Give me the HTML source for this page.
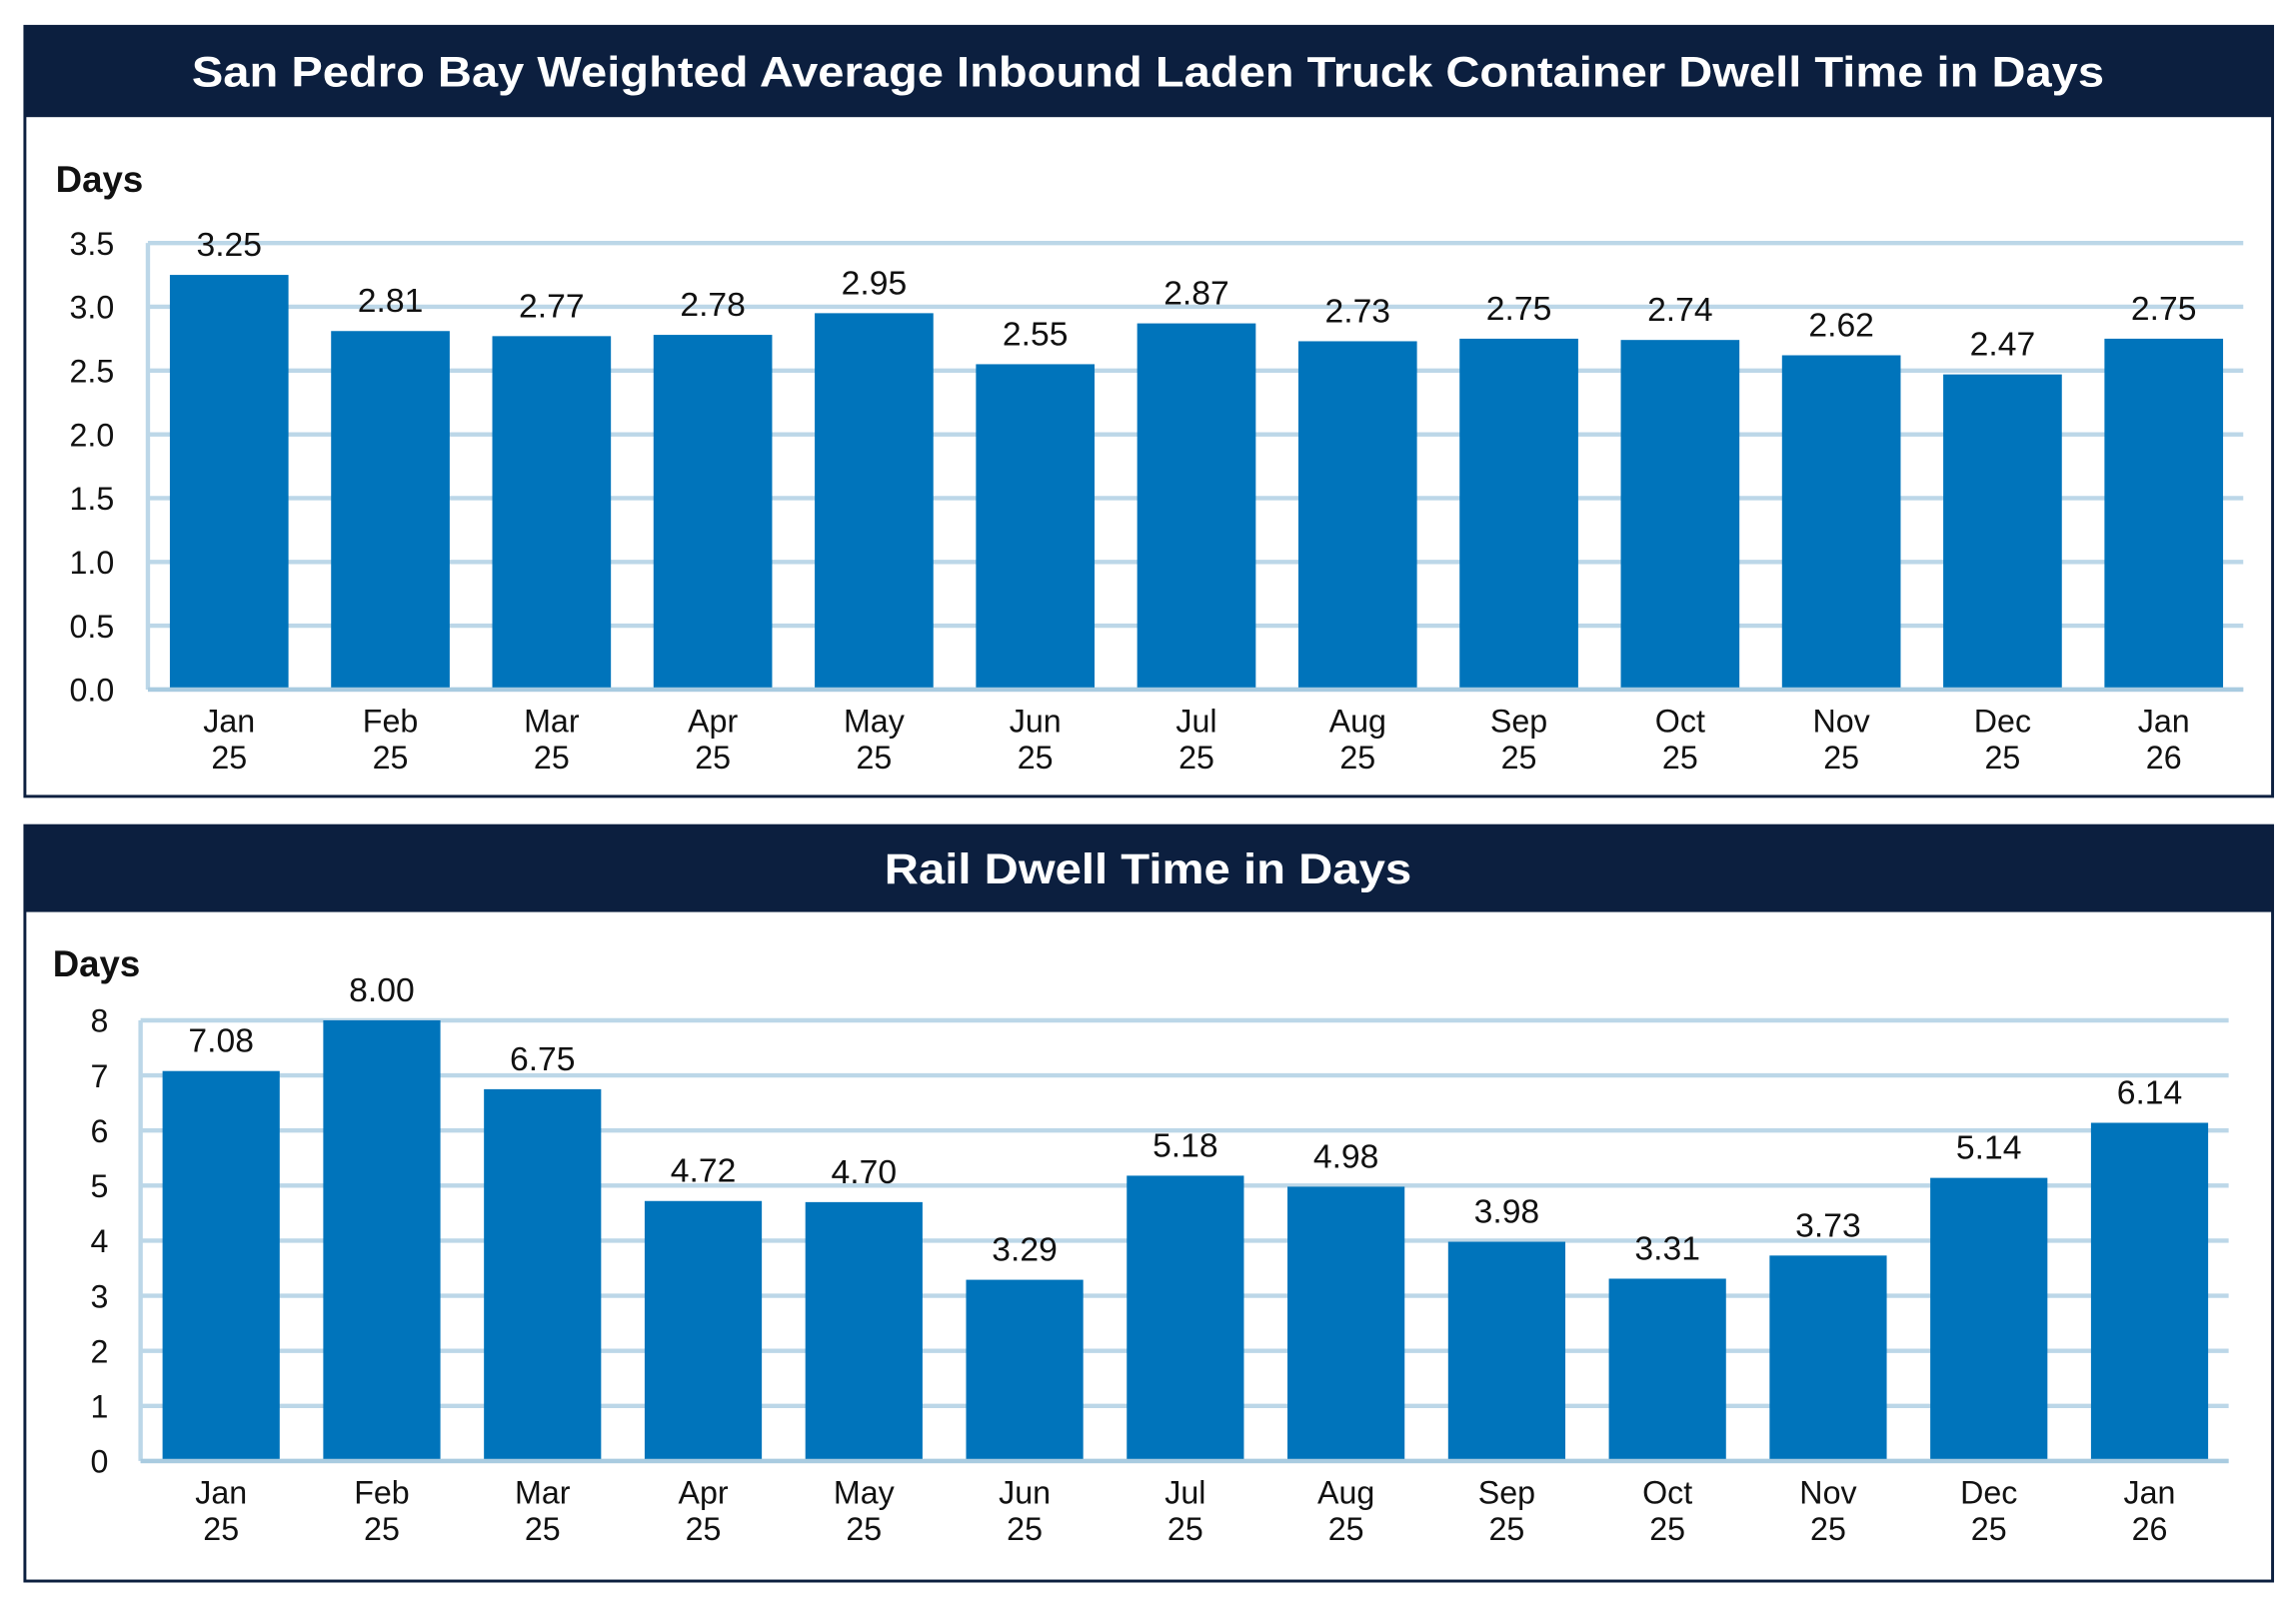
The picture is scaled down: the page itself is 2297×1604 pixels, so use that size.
<!DOCTYPE html>
<html><head><meta charset="utf-8"><style>
html,body{margin:0;padding:0;background:#fff}
svg{display:block}
text{font-family:"Liberation Sans Narrow","Liberation Sans",sans-serif}
</style></head>
<body>
<svg id="root" width="2297" height="1604" viewBox="0 0 1568 1095" preserveAspectRatio="none" xmlns="http://www.w3.org/2000/svg">
</svg>
<script>
const categoriesTop = ["Jan|25","Feb|25","Mar|25","Apr|25","May|25","Jun|25","Jul|25","Aug|25","Sep|25","Oct|25","Nov|25","Dec|25","Jan|26"];
const truckValues = [3.25,2.81,2.77,2.78,2.95,2.55,2.87,2.73,2.75,2.74,2.62,2.47,2.75];
const truckTicks = ["0.0","0.5","1.0","1.5","2.0","2.5","3.0","3.5"];
const categoriesBottom = ["Jan|25","Feb|25","Mar|25","Apr|25","May|25","Jun|25","Jul|25","Aug|25","Sep|25","Oct|25","Nov|25","Dec|25","Jan|26"];
const railValues = [7.08,8.00,6.75,4.72,4.70,3.29,5.18,4.98,3.98,3.31,3.73,5.14,6.14];
const railTicks = ["0","1","2","3","4","5","6","7","8"];

const NS = "http://www.w3.org/2000/svg";
const root = document.getElementById('root');
function mk(tag, attrs, parent, txt){
  const e = document.createElementNS(NS, tag);
  for (const k in attrs) e.setAttribute(k, attrs[k]);
  if (txt !== undefined) e.textContent = txt;
  parent.appendChild(e);
  return e;
}

function panel(cfg){
  const g = mk('g', {}, root);
  
  
  const frame = mk('rect', {x:17, y:cfg.top, width:1535, height:cfg.bottom-cfg.top, fill:'#fff', stroke:'#0c1f3f', 'stroke-width':2}, g);
  
  
  const hdr = mk('rect', {x:17, y:cfg.top, width:1535, height:cfg.hdrH, fill:'#0c1f3f'}, g);
  
  
  const t = mk('text', {x:784, y:cfg.top+cfg.hdrH/2+10, 'text-anchor':'middle', fill:'#fff', 'font-size':29, 'font-weight':'bold', 'font-family':'Liberation Sans, sans-serif'}, g, cfg.title);
  if (cfg.titleLen) { t.setAttribute('textLength', cfg.titleLen); t.setAttribute('lengthAdjust', 'spacingAndGlyphs'); }
  
  
  const yl = mk('text', {x:cfg.daysX, y:cfg.daysY, 'font-size':25, fill:'#111', 'font-weight':'bold'}, g, 'Days');
  
  

  const y = v => cfg.y0 - (v - 0) / cfg.max * (cfg.y0 - cfg.yTop);
  cfg.ticks.forEach((tk) => {
    const v = parseFloat(tk);
    const gl = mk('line', {x1:cfg.axisX, x2:cfg.right, y1:y(v), y2:y(v), stroke:'#bcd7e8', 'stroke-width':3}, g);
    
    
    const tl = mk('text', {x:cfg.tickX, y:y(v)+8, 'text-anchor':'end', 'font-size':22, fill:'#111'}, g, tk);
    
    
  });
  const ax = mk('line', {x1:cfg.axisX, x2:cfg.axisX, y1:cfg.yTop, y2:cfg.y0, stroke:'#bcd7e8', 'stroke-width':3}, g);
  
  

  const xc = i => cfg.firstX + i * cfg.step;
  cfg.values.forEach((v, i) => {
    const b = mk('rect', {x:xc(i) - cfg.bw/2, y:y(v), width:cfg.bw, height:cfg.y0 - y(v), fill:'#0074bb'}, g);
    
    
    const lbl = mk('text', {x:xc(i), y:y(v) - 13, 'text-anchor':'middle', 'font-size':23, fill:'#111'}, g, v.toFixed(2));
    
    
    const parts = cfg.cats[i].split('|');
    const c1 = mk('text', {x:xc(i), y:cfg.y0 + 29, 'text-anchor':'middle', 'font-size':22, fill:'#111'}, g, parts[0]);
    
    
    const c2 = mk('text', {x:xc(i), y:cfg.y0 + 54, 'text-anchor':'middle', 'font-size':22, fill:'#111'}, g, parts[1]);
    
    
  });
  const base = mk('line', {x1:cfg.axisX, x2:cfg.right, y1:cfg.y0, y2:cfg.y0, stroke:'#a9cbe0', 'stroke-width':3}, g);
  
  
}

panel({name:'truck-dwell-chart', top:18, bottom:544, hdrH:62, title:'San Pedro Bay Weighted Average Inbound Laden Truck Container Dwell Time in Days', titleLen:1306,
  daysX:38, daysY:131, axisX:101, right:1532, y0:471, yTop:166, max:3.5, tickX:78,
  firstX:156.5, step:110.1, bw:81, values:truckValues, cats:categoriesTop, ticks:truckTicks});
panel({name:'rail-dwell-chart', top:564, bottom:1080, hdrH:59, title:'Rail Dwell Time in Days', titleLen:360,
  daysX:36, daysY:667, axisX:96, right:1522, y0:998, yTop:697, max:8, tickX:74,
  firstX:151, step:109.75, bw:80, values:railValues, cats:categoriesBottom, ticks:railTicks});
</script>
</body></html>
